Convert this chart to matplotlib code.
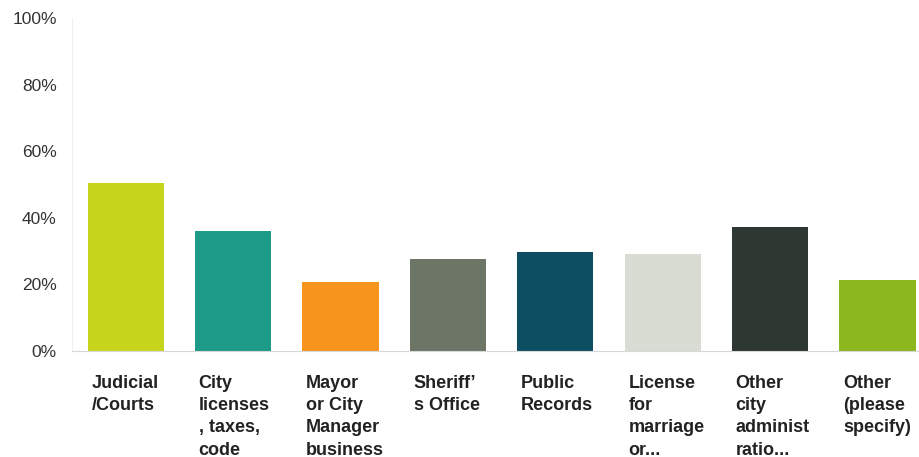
import matplotlib
matplotlib.use("Agg")
import matplotlib.pyplot as plt
from matplotlib.transforms import blended_transform_factory

# data
categories = [
    "Judicial\n/Courts",
    "City\nlicenses\n, taxes,\ncode",
    "Mayor\nor City\nManager\nbusiness",
    "Sheriff\u2019\ns Office",
    "Public\nRecords",
    "License\nfor\nmarriage\nor...",
    "Other\ncity\nadminist\nratio...",
    "Other\n(please\nspecify)",
]
values = [50.4, 36.0, 20.7, 27.6, 29.7, 29.1, 37.3, 21.4]
colors = ["#c6d41c", "#1d9a88", "#f7941e", "#6c7566", "#0e4e62",
          "#d9dcd2", "#2e3832", "#8db71e"]
yticks = [0, 20, 40, 60, 80, 100]

plt.rcParams["font.family"] = ["Liberation Sans", "DejaVu Sans"]

W, H = 919, 457
fig = plt.figure(figsize=(W / 100, H / 100), dpi=100)
ax = fig.add_axes([72 / W, (H - 351) / H, (919 - 72) / W, (351 - 18) / H])

x = range(len(categories))
bar_w = 0.71
ax.bar(x, values, width=bar_w, color=colors, zorder=2)

ax.set_xlim(-0.5, -0.5 + (919 - 72) / 107.4)
ax.set_ylim(0, 100)
ax.set_yticks(yticks)
ax.set_yticklabels([f"{t}%" for t in yticks], fontsize=12.5, color="#333333")
ax.tick_params(axis="y", length=0, pad=11)
ax.set_xticks([])

for s in ["top", "right"]:
    ax.spines[s].set_visible(False)
ax.spines["left"].set_color("#f0f0f0")
ax.spines["bottom"].set_color("#d8d8d8")

# category labels, left aligned under each bar
trans = blended_transform_factory(ax.transData, ax.transAxes)
for i, lab in enumerate(categories):
    ax.text(i - bar_w / 2 + 0.035, -0.072, lab, transform=trans, ha="left", va="top",
            fontsize=13, fontweight="bold", color="#222222", linespacing=1.4)

fig.savefig("out.png", dpi=100)
